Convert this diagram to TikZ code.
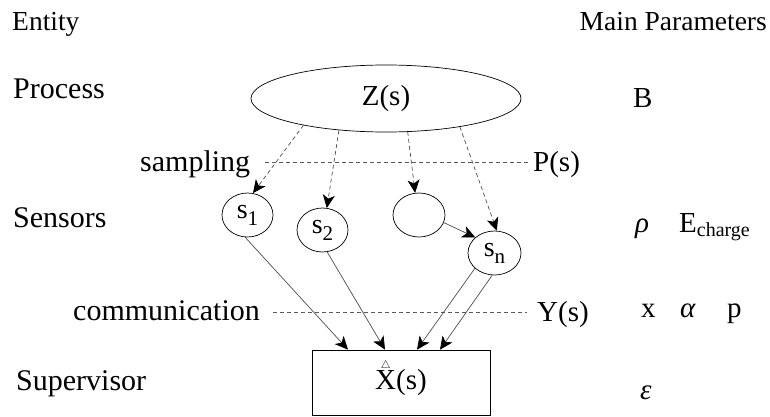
\documentclass[tikz,border=0pt]{standalone}
\usepackage{fontspec}
\setmainfont{Liberation Serif}
\usetikzlibrary{arrows.meta,shapes.geometric,calc}
\tikzset{
  lbl/.style={anchor=base west, inner sep=0pt, font=\fontsize{29}{32}\selectfont},
  lblL/.style={lbl, font=\fontsize{30}{33}\selectfont},
  lblH/.style={lbl, font=\fontsize{27.5}{30}\selectfont},
  ent/.style={draw=black, line width=0.7pt, ellipse, inner sep=0pt},
  sens/.style={ent, minimum width=51pt, minimum height=44pt, font=\fontsize{28}{30}\selectfont},
  tip/.style={-{Stealth[length=13pt,width=12pt,inset=3.5pt,black]}},
  dasharrow/.style={draw=black!70, line width=0.7pt, dash pattern=on 4pt off 3pt, tip},
  solidarrow/.style={draw=black!70, line width=0.7pt, tip},
  dline/.style={draw=black!65, line width=0.7pt, dash pattern=on 4pt off 3pt}
}
\newcommand{\subsc}[1]{\raisebox{-7pt}{\fontsize{21}{21}\selectfont #1}}
\begin{document}
\begin{tikzpicture}[x=1pt,y=-1pt]
\useasboundingbox (0,0) rectangle (770,417);
% headers
\node[lblH] (hEnt) at (12,31) {Entity};
\node[lblH, anchor=base east] (hPar) at (767,31) {Main Parameters};
% left labels
\node[lblL] (lProc) at (13,99) {Process};
\node[lblL] (lSamp) at (140,171) {sampling};
\node[lblL] (lSens) at (13,227) {Sensors};
\node[lblL] (lComm) at (73,320) {communication};
\node[lblL] (lSup) at (16,390) {Supervisor};
% process
\node[ent, minimum width=270pt, minimum height=67pt, font=\fontsize{29}{32}\selectfont] (Z) at (386,98.5) {\raisebox{2pt}{Z(s)}};
% sensors
\node[sens] (s1) at (247.5,215) {s\subsc{1}};
\node[sens] (s2) at (322.5,230) {s\subsc{2}};
\node[sens, minimum width=52pt] (s3) at (419,215) {};
\node[sens, minimum width=53pt] (sn) at (494.5,253) {s\subsc{n}};
% supervisor
\node[draw=black, line width=0.7pt, minimum width=178pt, minimum height=65pt, inner sep=0pt, font=\fontsize{29}{32}\selectfont] (box) at (401,382.5)
  {\ooalign{X\cr\hidewidth\raisebox{21pt}{\fontsize{11}{11}\selectfont$\triangle$}\hidewidth\cr}(s)};
% right labels
\node[lbl] (pP) at (533,171) {P(s)};
\node[lbl] (pY) at (537,321) {Y(s)};
\node[lbl] (pB) at (633,107) {B};
\node[lbl] (pRho) at (635,232) {\itshape ρ};
\node[lbl] (pE) at (679,232) {E\raisebox{-4pt}{\fontsize{20}{20}\selectfont charge}};
\node[lbl] (pX) at (641,317) {x};
\node[lbl] (pA) at (680,317) {\itshape α};
\node[lbl] (pp) at (727,317) {p};
\node[lbl] (pEps) at (640,399) {\itshape ε};
% dashed horizontal lines
\coordinate (sa) at (265,162);
\coordinate (sb) at (528,162);
\coordinate (ca) at (273,312);
\coordinate (cb) at (527,312);
\draw[dline] (sa) -- (sb);
\draw[dline] (ca) -- (cb);
% sampling arrows
\draw[dasharrow] (Z.198) -- (s1.76);
\draw[dasharrow] (Z.214) -- (s2.79);
\draw[dasharrow] (Z.303) -- (s3.100);
\draw[dasharrow] (Z.339) -- (sn.84);
\draw[solidarrow] (s3.343) -- (sn.141);
% communication arrows
\draw[solidarrow] (s1.264) -- ([xshift=-53pt]box.north);
\draw[solidarrow] (s2.282) -- ([xshift=-16pt]box.north);
\draw[solidarrow] (sn.218) -- ([xshift=16pt]box.north);
\draw[solidarrow] (sn.264) -- ([xshift=39pt]box.north);
\end{tikzpicture}
\end{document}
